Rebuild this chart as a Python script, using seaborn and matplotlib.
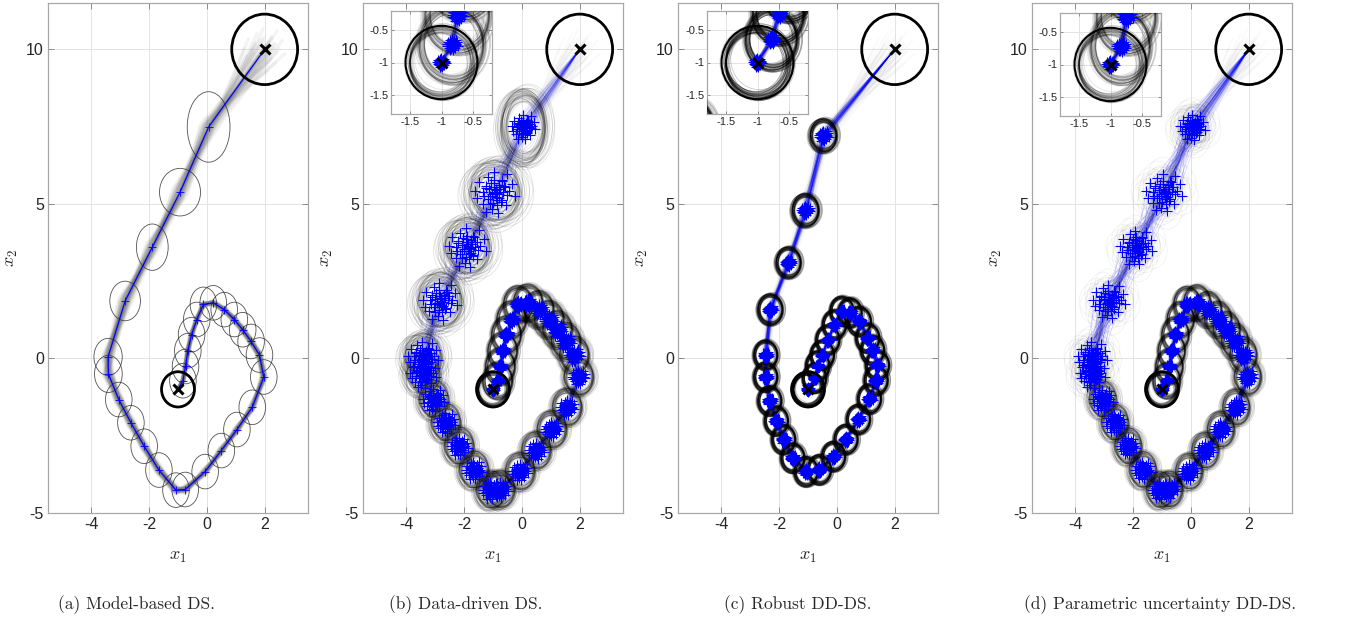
import numpy as np
import matplotlib
matplotlib.use("Agg")
import matplotlib.pyplot as plt
from matplotlib.patches import Ellipse
from matplotlib.collections import PatchCollection
import seaborn as sns

# nominal waypoints for panels (a), (b), (d)
path_x = [2.00, 0.06, -0.93, -1.89, -2.83, -3.42, -3.41, -3.05, -2.63, -2.17, -1.66, -1.07, -0.75, -0.06, 0.50, 1.04,
          1.57, 1.97, 1.82, 1.53, 1.24, 0.95, 0.60, 0.22, -0.12, -0.35, -0.53, -0.66, -0.74, -0.83, -1.00]
path_y = [10.00, 7.49, 5.38, 3.60, 1.86, 0.05, -0.50, -1.33, -2.08, -2.84, -3.61, -4.26, -4.24, -3.66, -2.98, -2.30,
          -1.58, -0.60, 0.11, 0.55, 0.93, 1.26, 1.58, 1.80, 1.75, 1.26, 0.77, 0.25, -0.26, -0.72, -1.00]
# robust DD-DS waypoints, panel (c)
robust_x = [2.00, -0.46, -1.08, -1.67, -2.30, -2.46, -2.46, -2.32, -2.09, -1.84, -1.52, -1.06, -0.60, -0.11, 0.32, 0.75,
            1.13, 1.36, 1.41, 1.24, 1.07, 0.78, 0.46, 0.18, -0.08, -0.31, -0.50, -0.66, -0.77, -1.00]
robust_y = [10.00, 7.21, 4.79, 3.10, 1.58, 0.11, -0.60, -1.37, -2.02, -2.62, -3.22, -3.66, -3.60, -3.17, -2.62, -1.97,
            -1.31, -0.71, -0.22, 0.27, 0.66, 1.20, 1.48, 1.53, 1.09, 0.60, 0.11, -0.24, -0.64, -1.00]

# uncertainty ellipse semi-axes at every waypoint
rx_a = [1.14, 0.74, 0.71, 0.55, 0.53, 0.49, 0.48] + [0.46] * 23 + [0.57]
ry_a = [1.14, 1.14, 0.77, 0.75, 0.64, 0.60, 0.60] + [0.56] * 23 + [0.57]
rx_b = [1.14, 0.74, 0.84, 0.76, 0.74, 0.62, 0.56] + [0.50] * 23 + [0.57]
ry_b = [1.14, 1.08, 0.88, 0.82, 0.80, 0.66, 0.60] + [0.56] * 23 + [0.57]
rx_c = [1.14, 0.45, 0.45, 0.42, 0.42] + [0.40] * 24 + [0.57]
ry_c = [1.14, 0.50, 0.50, 0.47, 0.47] + [0.45] * 24 + [0.57]
rx_d = [1.14, 0.50, 0.50, 0.46, 0.46, 0.46, 0.46] + [0.46] * 23 + [0.57]
ry_d = [1.14, 0.55, 0.55, 0.52, 0.52, 0.52, 0.52] + [0.54] * 23 + [0.57]

# scatter of the learned attractor points around each waypoint
spread_gray = [0.70, 0.30, 0.28, 0.24, 0.24, 0.20, 0.18, 0.15, 0.14, 0.13, 0.13, 0.13, 0.13, 0.12, 0.12, 0.11,
               0.11, 0.11, 0.10, 0.10, 0.10, 0.10, 0.09, 0.09, 0.09, 0.08, 0.08, 0.07, 0.07, 0.06, 0.05]
spread_b = [0.0, 0.40, 0.68, 0.64, 0.60, 0.52, 0.45, 0.36, 0.32, 0.29, 0.29, 0.29, 0.27, 0.27, 0.27, 0.25,
            0.25, 0.23, 0.22, 0.21, 0.20, 0.19, 0.18, 0.16, 0.14, 0.13, 0.12, 0.11, 0.10, 0.09, 0.07]
spread_c = [0.0, 0.17, 0.15, 0.13, 0.12, 0.11, 0.11, 0.11, 0.11, 0.11, 0.11, 0.11, 0.11, 0.11, 0.11, 0.11,
            0.11, 0.11, 0.10, 0.10, 0.10, 0.10, 0.10, 0.09, 0.09, 0.09, 0.08, 0.08, 0.07, 0.07]
spread_d = [0.0, 0.42, 0.62, 0.56, 0.56, 0.50, 0.44, 0.34, 0.30, 0.28, 0.28, 0.28, 0.26, 0.26, 0.26, 0.24,
            0.24, 0.22, 0.21, 0.20, 0.19, 0.18, 0.17, 0.15, 0.13, 0.12, 0.11, 0.10, 0.09, 0.08, 0.07]

# fixed scatter pattern (unit offsets)
jit_x = [0.12, -0.48, 0.71, -0.15, 0.33, -0.90, 0.05, 0.55, -0.38, 0.88, -0.62, 0.21,
         -0.07, 0.44, -0.27, 1.00, -0.80, 0.15, 0.62, -0.45, -0.05, 0.30, -1.00, 0.02]
jit_y = [-0.35, 0.22, 0.05, -0.82, 0.58, -0.30, 0.14, -0.62, 0.74, 0.41, -0.55, -0.08,
         0.95, 0.27, -0.18, -0.20, 0.50, -1.00, 0.85, -0.95, 0.42, -0.45, 0.05, -0.02]

captions = ["(a) Model-based DS.", "(b) Data-driven DS.", "(c) Robust DD-DS.", "(d) Parametric uncertainty DD-DS."]
x_ticks = [-4, -2, 0, 2]
y_ticks = [-5, 0, 5, 10]
inset_ticks = [-1.5, -1, -0.5]

sns.set_theme(style="whitegrid")
plt.rcParams["font.family"] = ["Liberation Sans", "DejaVu Sans"]
plt.rcParams["mathtext.fontset"] = "cm"
plt.rcParams["axes.unicode_minus"] = False

BLUE = "#0000ff"
N = len(jit_x)
# two passes over the offset pattern: full and shrunken
PASSES = [(1.0, 0), (0.6, 11)]


def traj(px, py, spread, k, scale, shift):
    xs, ys = [], []
    for i in range(len(px)):
        j = (k + 5 * i + shift) % N
        xs.append(px[i] + scale * spread[i] * jit_x[j])
        ys.append(py[i] + scale * spread[i] * jit_y[j])
    return xs, ys


def style_axes(ax, xlim, ylim, xt, yt, fs):
    ax.set_xlim(*xlim)
    ax.set_ylim(*ylim)
    ax.set_xticks(xt)
    ax.set_yticks(yt)
    ax.set_xticklabels([f"{v:g}" for v in xt])
    ax.set_yticklabels([f"{v:g}" for v in yt])
    ax.set_facecolor("white")
    ax.grid(True, color="#e3e3e3", lw=0.7)
    ax.tick_params(direction="in", length=4, width=0.7, color="#8a8a8a", labelsize=fs,
                   labelcolor="#262626", top=True, right=True, bottom=True, left=True, pad=3)
    for s in ax.spines.values():
        s.set_color("#a8a8a8")
        s.set_linewidth(0.9)
    ax.set_axisbelow(True)


def draw(ax, kind, px, py, spread, rx, ry, thick=2.0):
    n = len(px)
    # grey demonstrations
    for scale, shift in PASSES:
        for k in range(N):
            xs, ys = traj(px, py, spread_gray, k, scale, shift)
            ax.plot(xs, ys, color="0.45", lw=2.4 if kind == "a" else 1.4,
                    alpha=0.075 if kind == "a" else 0.03, zorder=1)
    if kind == "a":
        ells = [Ellipse((px[i], py[i]), 2 * rx[i], 2 * ry[i]) for i in range(1, n - 1)]
        ax.add_collection(PatchCollection(ells, facecolor="none", edgecolor=(0.2, 0.2, 0.2, 0.85),
                                          linewidth=0.6, zorder=3))
        sns.lineplot(x=px, y=py, sort=False, color=BLUE, lw=0.9, ax=ax, zorder=4)
        sns.scatterplot(x=px[1:-1], y=py[1:-1], marker="+", color=BLUE, edgecolor=BLUE,
                        s=35, linewidth=0.6, ax=ax, zorder=5)
    else:
        pts_x, pts_y = [], []
        ells, ecols = [], []
        lalpha = {"b": 0.1, "c": 0.16, "d": 0.16}[kind]
        ealpha = {"b": 0.11, "c": 0.2, "d": 0.11}[kind]
        for scale, shift in PASSES:
            for k in range(N):
                xs, ys = traj(px, py, spread, k, scale, shift)
                ax.plot(xs, ys, color=BLUE, lw=0.5, alpha=lalpha, zorder=2)
                pts_x += xs[1:]
                pts_y += ys[1:]
                for i in range(1, n - 1):
                    j = (k + 5 * i + shift) % N
                    a = ealpha
                    f = 1 + 0.14 * jit_y[(j + 3) % N]
                    c = 0.5
                    if kind == "b" and i < 7:
                        f = 1 + 0.22 * jit_y[(j + 3) % N]
                    if kind == "d" and i < 7:
                        a, c = 0.05, 1.0
                    ells.append(Ellipse((px[i] + c * scale * spread[i] * jit_x[j],
                                         py[i] + c * scale * spread[i] * jit_y[j]),
                                        2 * rx[i] * f, 2 * ry[i] * f))
                    ecols.append((0, 0, 0, a))
                # ellipses around the target
                f = 1 + 0.1 * jit_x[(k + shift) % N]
                ells.append(Ellipse((px[-1] + 0.05 * jit_x[k], py[-1] + 0.06 * jit_y[k]), 2 * 0.5 * f, 2 * 0.52 * f))
                ecols.append((0, 0, 0, ealpha))
        ax.add_collection(PatchCollection(ells, facecolor="none", edgecolor=ecols, linewidth=0.6, zorder=3))
        sns.scatterplot(x=pts_x, y=pts_y, marker="+", color=BLUE, edgecolor=BLUE,
                        s=55, linewidth=0.8, ax=ax, zorder=5)
    # start and target regions
    ax.add_patch(Ellipse((px[0], py[0]), 2 * rx[0], 2 * ry[0], fill=False, ec="black", lw=thick, zorder=6))
    ax.add_patch(Ellipse((px[-1], py[-1]), 2 * rx[-1], 2 * ry[-1], fill=False, ec="black", lw=thick, zorder=6))
    ax.plot([px[0], px[-1]], [py[0], py[-1]], ls="none", marker="x", ms=6.5, mew=2.2, color="black", zorder=7)


W, H = 1362, 633
fig = plt.figure(figsize=(W / 100, H / 100), dpi=100)

panels = [
    ("a", 48, path_x, path_y, spread_gray, rx_a, ry_a),
    ("b", 363, path_x, path_y, spread_b, rx_b, ry_b),
    ("c", 678, robust_x, robust_y, spread_c, rx_c, ry_c),
    ("d", 1032, path_x, path_y, spread_d, rx_d, ry_d),
]
insets = {"b": (391, 11), "c": (707, 11), "d": (1060, 13)}
cap_x = [137, 466, 798, 1160]

for idx, (kind, left, px, py, sp, rx, ry) in enumerate(panels):
    ax = fig.add_axes([left / W, 1 - 513 / H, 260 / W, 510 / H])
    style_axes(ax, (-5.5, 3.5), (-5, 11.5), x_ticks, y_ticks, 11.5)
    draw(ax, kind, px, py, sp, rx, ry)
    ax.set_xlabel(r"$x_1$", fontsize=13)
    ax.set_ylabel(r"$x_2$", fontsize=13)
    ax.xaxis.set_label_coords(0.5, -0.068)
    ax.yaxis.set_label_coords(-0.108, 0.5)
    if kind in insets:
        il, it = insets[kind]
        axi = fig.add_axes([il / W, 1 - (it + 103) / H, 101 / W, 103 / H])
        style_axes(axi, (-1.8, -0.2), (-1.8, -0.2), inset_ticks, inset_ticks, 8)
        axi.tick_params(length=2.5, pad=2)
        draw(axi, kind, px, py, sp, rx, ry, thick=1.5)
    fig.text(cap_x[idx] / W, 1 - 605 / H, captions[idx], family="cmr10", fontsize=12.5, ha="center", va="center")

fig.savefig("out.png", dpi=100)
